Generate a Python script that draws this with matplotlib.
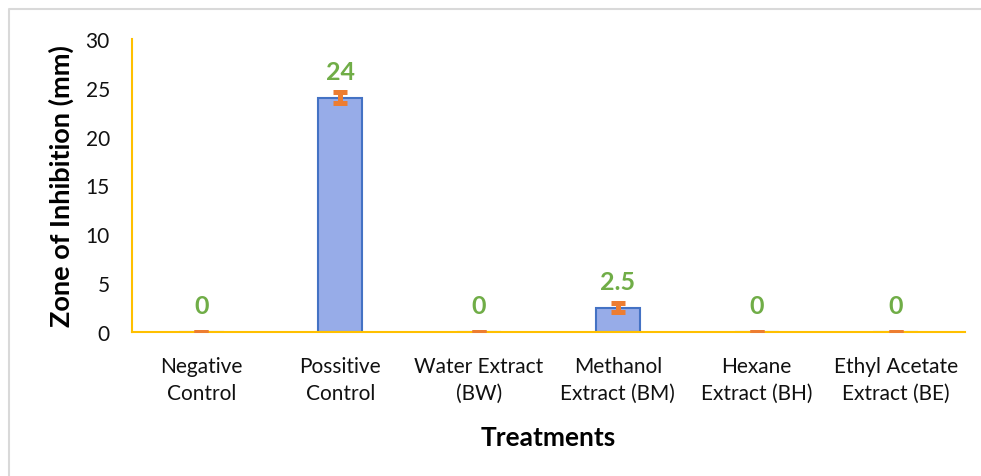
import matplotlib
matplotlib.use('Agg')
import matplotlib.pyplot as plt
from matplotlib.lines import Line2D

categories = ['Negative\nControl', 'Possitive\nControl', 'Water Extract\n(BW)',
              'Methanol\nExtract (BM)', 'Hexane\nExtract (BH)', 'Ethyl Acetate\nExtract (BE)']
values = [0, 24, 0, 2.5, 0, 0]
errors = [0, 0.6, 0, 0.5, 0, 0]
value_labels = ['0', '24', '0', '2.5', '0', '0']
y_ticks = [0, 5, 10, 15, 20, 25, 30]

plt.rcParams['font.family'] = ['Lato', 'DejaVu Sans']

fig = plt.figure(figsize=(9.81, 4.77), dpi=100)
# chart area border (only top and left visible in the crop)
fig.lines.append(Line2D([9 / 981, 9 / 981, 1], [0, 1 - 10 / 477, 1 - 10 / 477],
                        transform=fig.transFigure, color='#D9D9D9', linewidth=1.5))

ax = fig.add_axes([132 / 981, 1 - 333 / 477, (965 - 132) / 981, (333 - 40) / 477])
x = list(range(len(categories)))
ax.bar(x, values, width=0.32, color='#97ACE8', edgecolor='#4472C4', linewidth=1.5, zorder=2)
ax.errorbar(x, values, yerr=errors, fmt='none', ecolor='#ED7D31',
            elinewidth=3.6, capsize=4.7, capthick=3.6, zorder=3)

for xi, v, lab in zip(x, values, value_labels):
    ax.text(xi, v + 1.5, lab, ha='center', va='bottom', color='#70AD47',
            fontsize=18, fontweight='bold')

ax.set_xlim(-0.5, len(categories) - 0.5)
ax.set_ylim(0, 30)
ax.set_yticks(y_ticks)
ax.set_xticks(x)
ax.set_xticklabels(categories, fontsize=15, color='#111111', linespacing=1.45)
ax.tick_params(axis='y', labelsize=15, length=0, pad=16, labelcolor='#111111')
ax.tick_params(axis='x', length=0, pad=17)

for side in ['top', 'right']:
    ax.spines[side].set_visible(False)
for side in ['left', 'bottom']:
    ax.spines[side].set_color('#FFC000')
    ax.spines[side].set_linewidth(1.5)

ax.set_ylabel('Zone of Inhibition (mm)', fontsize=19.5, fontweight='bold', labelpad=8)
ax.set_xlabel('Treatments', fontsize=19, fontweight='bold', labelpad=16)

fig.savefig('out.png', dpi=100)
